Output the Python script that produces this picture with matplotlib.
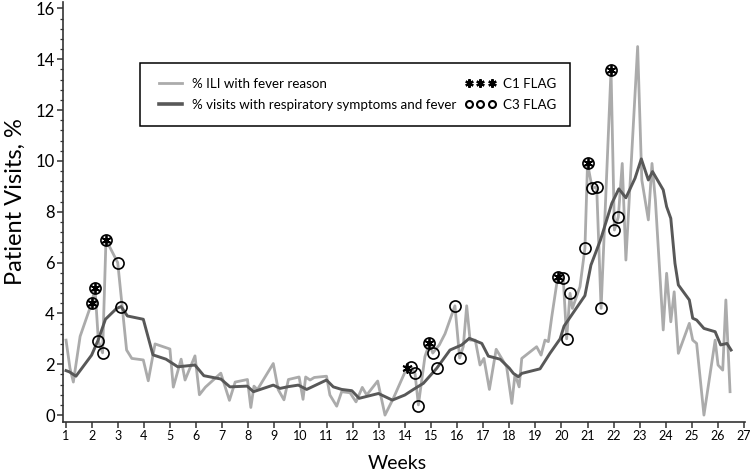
import matplotlib
matplotlib.use("Agg")
import matplotlib.pyplot as plt
from matplotlib.lines import Line2D
from matplotlib.ticker import MultipleLocator

FONT = ['Liberation Sans Narrow', 'Lato', 'DejaVu Sans']

# % ILI with fever reason (light gray)
ili_x = [1.02, 1.17, 1.3, 1.56, 2.0, 2.13, 2.26, 2.42, 2.55, 3.0, 3.34, 3.54, 3.98, 4.17,
         4.43, 5.0, 5.13, 5.43, 5.58, 5.96, 6.13, 6.36, 6.95, 7.28, 7.5, 7.97, 8.1, 8.22,
         8.35, 8.96, 9.15, 9.37, 9.54, 9.95, 10.1, 10.2, 10.37, 10.53, 11.0, 11.13, 11.39,
         11.58, 11.9, 12.13, 12.37, 12.54, 12.96, 13.24, 13.56, 14.07, 14.24, 14.39, 14.52,
         14.77, 14.94, 15.07, 15.32, 15.54, 15.92, 16.1, 16.24, 16.37, 16.5, 16.7, 16.88,
         17.03, 17.24, 17.5, 17.71, 17.9, 18.1, 18.22, 18.38, 18.48, 19.05, 19.22, 19.37,
         19.5, 19.63, 19.86, 20.07, 20.2, 20.33, 20.42, 20.71, 20.9, 21.0, 21.18, 21.35,
         21.52, 21.9, 22.03, 22.18, 22.33, 22.47, 22.92, 23.08, 23.33, 23.47, 23.6, 23.9,
         24.03, 24.19, 24.32, 24.48, 24.9, 25.03, 25.18, 25.46, 25.89, 26.0, 26.18, 26.3, 26.46]
ili_y = [2.95, 1.85, 1.3, 3.1, 4.4, 5.0, 2.9, 2.45, 6.9, 6.0, 2.56, 2.23, 2.17, 1.35,
         2.8, 2.6, 1.1, 2.2, 1.38, 2.33, 0.8, 1.1, 1.65, 0.58, 1.3, 1.4, 0.3, 1.14,
         1.0, 2.03, 1.0, 0.6, 1.4, 1.5, 0.62, 1.5, 1.38, 1.48, 1.53, 0.79, 0.35,
         0.92, 0.88, 0.52, 1.09, 0.79, 1.34, 0.0, 0.66, 1.84, 1.9, 1.64, 0.4,
         2.3, 2.82, 2.44, 2.76, 3.2, 4.3, 2.25, 2.7, 4.3, 2.95, 2.95, 1.97,
         2.23, 1.01, 2.59, 2.23, 1.9, 0.46, 1.6, 1.11, 2.23, 2.69, 2.36, 2.95,
         2.89, 3.87, 5.44, 5.38, 3.0, 4.79, 4.2, 5.05, 6.56, 9.9, 8.92, 8.99,
         4.2, 13.58, 7.28, 7.8, 9.9, 6.1, 14.5, 9.25, 7.68, 9.9, 8.46, 3.35,
         5.58, 3.67, 4.85, 2.43, 3.61, 2.95, 2.82, 0.0, 2.95, 1.97, 1.77, 4.53, 0.92]

# % visits with respiratory symptoms and fever (dark gray)
resp_x = [1.02, 1.15, 1.4, 2.0, 2.25, 2.53, 2.96, 3.13, 3.37, 3.98, 4.35, 4.85, 5.3, 5.96,
          6.3, 6.95, 7.3, 7.96, 8.2, 8.96, 9.22, 9.54, 9.92, 10.24, 11.0, 11.26, 11.58,
          11.97, 12.25, 12.99, 13.52, 14.0, 14.33, 14.71, 15.22, 15.73, 16.18, 16.47, 16.95,
          17.2, 17.65, 18.0, 18.16, 18.35, 18.48, 19.18, 19.56, 19.95, 20.1, 20.9, 21.13,
          21.5, 21.93, 22.2, 22.47, 22.82, 23.06, 23.33, 23.49, 23.9, 24.03, 24.19, 24.35,
          24.48, 24.9, 25.03, 25.18, 25.46, 25.89, 26.1, 26.34, 26.5]
resp_y = [1.75, 1.7, 1.53, 2.36, 2.95, 3.77, 4.2, 4.27, 3.9, 3.77, 2.37, 2.2, 1.9, 1.97,
          1.55, 1.42, 1.11, 1.14, 0.92, 1.18, 1.05, 1.12, 1.18, 1.01, 1.38, 1.11, 1.01,
          0.96, 0.66, 0.85, 0.59, 0.79, 1.01, 1.25, 1.84, 2.56, 2.76, 3.02, 2.82,
          2.32, 2.2, 1.85, 1.64, 1.51, 1.64, 1.82, 2.43, 3.0, 3.5, 4.7, 5.9,
          6.9, 8.33, 8.9, 8.55, 9.32, 10.08, 9.25, 9.58, 8.86, 8.2, 7.74, 5.97,
          5.12, 4.53, 3.81, 3.74, 3.41, 3.28, 2.76, 2.82, 2.56]

# C1 flags (asterisks)
c1_x = [2.0, 2.13, 2.55, 14.07, 14.94, 19.86, 21.0, 21.9]
c1_y = [4.4, 5.0, 6.9, 1.84, 2.82, 5.44, 9.9, 13.58]

# C3 flags (circles)
c3_x = [2.0, 2.13, 2.26, 2.42, 2.55, 3.0, 3.13, 14.24, 14.39, 14.52, 14.94, 15.07, 15.22,
        15.92, 16.1, 19.86, 20.07, 20.2, 20.33, 20.9, 21.0, 21.18, 21.35, 21.52, 21.9,
        22.03, 22.18]
c3_y = [4.4, 5.0, 2.9, 2.45, 6.9, 6.0, 4.27, 1.9, 1.64, 0.35, 2.82, 2.44, 1.84,
        4.3, 2.25, 5.44, 5.38, 3.0, 4.79, 6.56, 9.9, 8.92, 8.99, 4.2, 13.58,
        7.28, 7.8]

week_ticks = list(range(1, 28))
y_ticks = list(range(0, 17, 2))

LIGHT = '#ababab'
DARK = '#585858'
ASTER = (6, 2, 0)

fig = plt.figure(figsize=(7.51, 4.75), dpi=100)
ax = fig.add_axes([0.0839, 0.1122, 0.908, 0.884])

ax.plot(ili_x, ili_y, color=LIGHT, lw=2.0, zorder=2)
ax.plot(resp_x, resp_y, color=DARK, lw=2.1, zorder=3)
ax.plot(c3_x, c3_y, ls='none', marker='o', ms=8.0, mfc='none', mec='black', mew=1.2, zorder=4)
ax.plot(c1_x, c1_y, ls='none', marker=ASTER, ms=7.2, mec='black', mew=1.3, zorder=5)

ax.set_xlim(0.904, 27.03)
ax.set_ylim(-0.26, 16.26)
ax.set_xticks(week_ticks)
ax.set_xticklabels([str(t) for t in week_ticks], family=FONT, fontsize=9)
ax.set_yticks(y_ticks)
ax.set_yticklabels([str(t) for t in y_ticks], family=FONT, fontsize=12)
ax.yaxis.set_minor_locator(MultipleLocator(0.4))

for s in ['top', 'right']:
    ax.spines[s].set_visible(False)
for s in ['left', 'bottom']:
    ax.spines[s].set_linewidth(1.2)
    ax.spines[s].set_color('#333333')
ax.tick_params(axis='both', which='major', direction='out', length=4, width=1.1,
               color='#333333', pad=2)
ax.tick_params(axis='y', which='minor', direction='out', length=2.5, width=0.9,
               color='#333333')

ax.set_xlabel('Weeks', family=FONT, fontsize=14)
ax.xaxis.set_label_coords(0.49, -0.079)
ax.set_ylabel('Patient Visits, %', family=FONT, fontsize=17)
ax.yaxis.set_label_coords(-0.0547, 0.525)

handles = [
    Line2D([], [], color=LIGHT, lw=2),
    Line2D([], [], color=DARK, lw=2.6),
    Line2D([], [], ls='none', marker=ASTER, ms=6, mec='black', mew=1.6),
    Line2D([], [], ls='none', marker='o', ms=5, mfc='none', mec='black', mew=1.5),
]
labels = ['% ILI with fever reason', '% visits with respiratory symptoms and fever',
          'C1 FLAG', 'C3 FLAG']
leg = ax.legend(handles, labels, ncol=2, numpoints=3, loc='upper left',
                bbox_to_anchor=(0.113, 0.854), borderaxespad=0, frameon=True,
                fancybox=False, edgecolor='black', framealpha=1,
                prop={'family': FONT, 'size': 9.6}, handlelength=2.33,
                handletextpad=0.5, columnspacing=0.6, labelspacing=0.7, borderpad=1.1)
leg.get_frame().set_linewidth(1.1)

fig.savefig('out.png', dpi=100)
